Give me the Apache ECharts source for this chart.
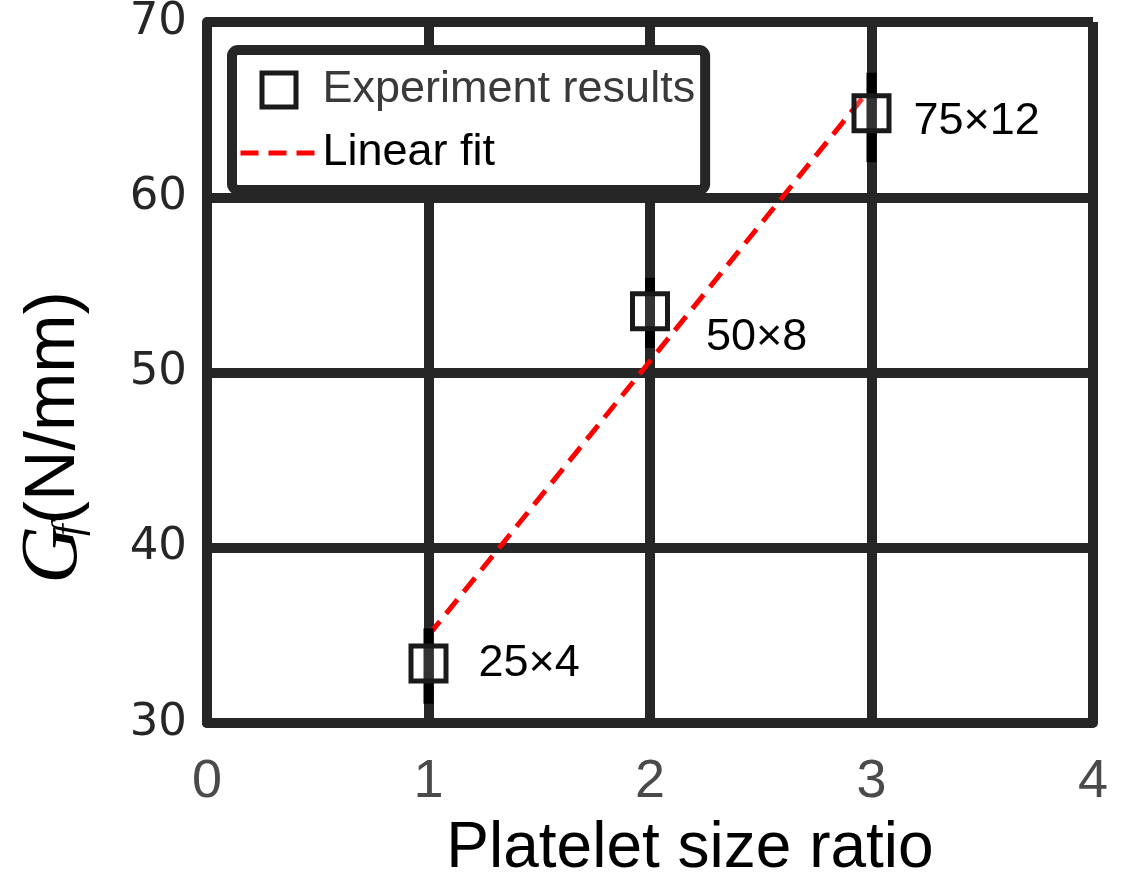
<!DOCTYPE html>
<html>
<head>
<meta charset="utf-8">
<script src="https://cdn.jsdelivr.net/npm/echarts@6/dist/echarts.min.js"></script>
<style>
html,body{margin:0;padding:0;background:#fff;}
#chart{width:1122px;height:873px;}
</style>
</head>
<body>
<div id="chart"></div>
<script>
const sizeRatio = [1, 2, 3];
const gfMean = [33.4, 53.5, 64.8];
const gfLow = [31.1, 51.4, 62.0];
const gfHigh = [35.4, 55.4, 67.1];
const sizeLabels = ['25×4', '50×8', '75×12'];
const fitX = [1, 3];
const fitY = [35.0, 66.3];

const gridColor = '#262626';
const chart = echarts.init(document.getElementById('chart'));

const labelOffsets = [[0, 0], [6, 26], [-8, 8]];

const scatterData = sizeRatio.map((x, i) => ({
  value: [x, gfMean[i]],
  label: { offset: labelOffsets[i] }
}));
const errData = sizeRatio.map((x, i) => [x, gfLow[i], gfHigh[i]]);
const fitData = fitX.map((x, i) => [x, fitY[i]]);

const axisCommon = {
  axisLine: { show: true, lineStyle: { color: gridColor, width: 10 } },
  axisTick: { show: false },
  splitLine: { show: true, lineStyle: { color: gridColor, width: 10 } }
};

chart.setOption({
  animation: false,
  backgroundColor: '#fff',
  grid: { left: 207, right: 29, top: 22, bottom: 150, outerBoundsMode: 'none', containLabel: false },
  legend: {
    orient: 'vertical',
    left: 232, top: 50,
    itemWidth: 77, itemHeight: 34, itemGap: 13,
    padding: [15, 10, 12, 6],
    borderColor: gridColor, borderWidth: 10, borderRadius: 6,
    backgroundColor: '#fff',
    z: 10,
    textStyle: { fontSize: 45, fontFamily: 'Liberation Sans', lineHeight: 50 },
    data: [
      { name: 'Experiment results', icon: 'path://M0,0H10V10H0Z',
        itemStyle: { color: '#fff', borderColor: '#1a1a1a', borderWidth: 5 },
        textStyle: { color: '#3a3a3a' } },
      { name: 'Linear fit',
        itemStyle: { color: 'rgba(0,0,0,0)', borderColor: 'rgba(0,0,0,0)', borderWidth: 0 },
        lineStyle: { color: '#ff0000', width: 5, type: [18, 10] },
        textStyle: { color: '#000' } }
    ]
  },
  xAxis: Object.assign({
    type: 'value', min: 0, max: 4, interval: 1,
    axisLabel: { fontSize: 54, fontFamily: 'Liberation Sans', color: '#4a4a4a', margin: 32 },
    name: 'Platelet size ratio', nameLocation: 'middle', nameGap: 94,
    nameTextStyle: { fontSize: 64, fontFamily: 'Liberation Sans', color: '#000', padding: [0, 0, 0, 80] }
  }, axisCommon),
  yAxis: Object.assign({
    type: 'value', min: 30, max: 70, interval: 10,
    axisLabel: { fontSize: 45, fontFamily: 'DejaVu Sans', color: gridColor, margin: 20 },
    name: '{g|G}{f|f}{n|(N/mm)}', nameLocation: 'middle', nameGap: 112,
    nameTextStyle: {
      padding: [0, 130, 0, 0],
      rich: {
        g: { fontSize: 80, fontFamily: 'Liberation Serif', fontStyle: 'italic', color: '#000' },
        f: { fontSize: 42, fontFamily: 'Liberation Serif', fontStyle: 'italic', color: '#000', padding: [30, 0, 0, -10] },
        n: { fontSize: 70, fontFamily: 'Liberation Sans', color: '#000' }
      }
    }
  }, axisCommon),
  series: [
    {
      name: 'Linear fit', type: 'line', data: fitData, symbol: 'none', z: 2,
      lineStyle: { color: '#ff0000', width: 5, type: [18, 10] },
      itemStyle: { color: '#ff0000' }
    },
    {
      name: 'errorbar', type: 'custom', data: errData, z: 3,
      renderItem: function (params, api) {
        const p1 = api.coord([api.value(0), api.value(1)]);
        const p2 = api.coord([api.value(0), api.value(2)]);
        return {
          type: 'line',
          shape: { x1: p1[0], y1: p1[1], x2: p2[0], y2: p2[1] },
          style: { stroke: '#000', lineWidth: 10 }
        };
      }
    },
    {
      name: 'Experiment results', type: 'scatter', data: scatterData, z: 4,
      symbol: 'rect', symbolSize: 35,
      itemStyle: { color: 'rgba(255,255,255,0.2)', borderColor: '#1a1a1a', borderWidth: 5, opacity: 1 },
      label: {
        show: true, position: 'right', distance: 30,
        fontSize: 45, fontFamily: 'Liberation Sans', color: '#000',
        formatter: p => sizeLabels[p.dataIndex]
      }
    }
  ]
});
</script>
</body>
</html>
